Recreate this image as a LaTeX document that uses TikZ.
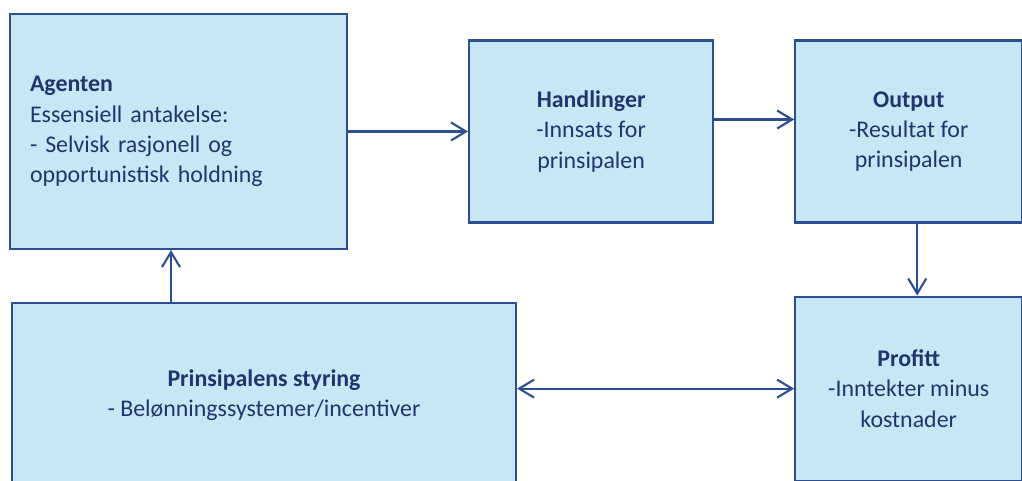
\documentclass[tikz,border=0pt]{standalone}
\usepackage{fontspec}
\setmainfont{Carlito}
\usepackage{tikz}
\usetikzlibrary{positioning, arrows.meta}
\definecolor{boxfill}{RGB}{199,231,244}
\definecolor{boxline}{RGB}{44,78,146}
\definecolor{boxtext}{RGB}{33,52,110}
\tikzset{
>={Straight Barb[length=3mm, width=3.6mm]}, % open chevron heads
every edge/.style={draw=boxline, line width=1.2pt, ->}, % all connectors
box/.style={draw=boxline, line width=1.2pt, fill=boxfill, text=boxtext,
  font=\fontsize{13.6}{17.2}\selectfont, align=center, inner sep=0pt}, % blue boxes
}

\begin{document}
\begin{tikzpicture}
    \clip (0,0) rectangle (20.44,9.6);
    \node[box, minimum width=6.74cm, minimum height=4.7cm,
          text width=5.94cm, align=left] (agenten) at (3.57,6.97)
        {\textbf{Agenten}\\Essensiell antakelse:\\- Selvisk rasjonell og\\opportunistisk holdning};
    \node[box, right=2.4cm of agenten, minimum width=4.88cm, minimum height=3.64cm] (handlinger)
        {\textbf{Handlinger}\\-Innsats for\\prinsipalen};
    \node[box, right=1.6cm of handlinger, minimum width=4.54cm, minimum height=3.64cm] (output)
        {\textbf{Output}\\-Resultat for\\prinsipalen};
    \node[box, below=1.44cm of output, minimum width=4.54cm, minimum height=3.68cm] (profitt)
        {\textbf{Profitt}\\-Inntekter minus\\kostnader};
    \node[box, minimum width=10.08cm, minimum height=3.68cm] (styring) at (5.28,1.7)
        {\textbf{Prinsipalens styring}\\- Belønningssystemer/incentiver};
    \coordinate (fot) at ([xshift=-0.15cm]agenten.south);
    \draw
        (agenten) edge (handlinger)
        ([yshift=0.24cm]handlinger.east) edge ([yshift=0.24cm]output.west)
        ([xshift=0.17cm]output.south) edge ([xshift=0.17cm]profitt.north)
        (fot |- styring.north) edge (fot)
        (styring.east |- profitt.west) edge[<->] (profitt.west)
        ;
\end{tikzpicture}
\end{document}
